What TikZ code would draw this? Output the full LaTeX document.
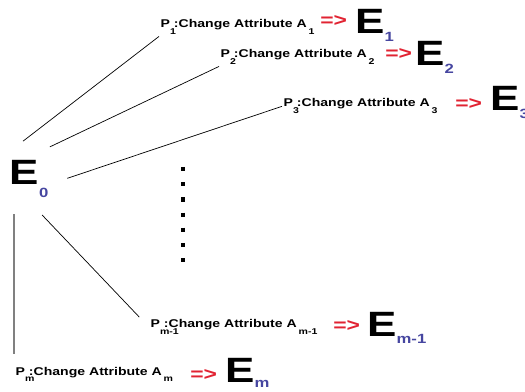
\documentclass[tikz,border=0pt]{standalone}
\usepackage{fontspec}
\newfontfamily\wide[FakeStretch=1.25]{Liberation Sans}
\definecolor{arrred}{RGB}{225,35,50}
\definecolor{subblue}{RGB}{70,70,160}
\newcommand{\stsub}[2][-5.5pt]{\raisebox{#1}{\color{subblue}\fontsize{9.5}{10}\selectfont #2}}
\newcommand{\lsub}[1]{\raisebox{-4.8pt}{\fontsize{6}{7}\selectfont #1}}
\newcommand{\plab}[2]{P\rlap{\lsub{#1}}\ :Change Attribute A\,\lsub{#2}}
\tikzset{
  plabel/.style={anchor=base west, inner sep=1pt, font=\wide\bfseries\fontsize{8}{9}\selectfont},
  implies/.style={anchor=base west, inner sep=0pt, text=arrred, font=\wide\bfseries\fontsize{13}{14}\selectfont},
  state/.style={anchor=base west, inner sep=0pt, font=\wide\bfseries\fontsize{25}{28}\selectfont},
  link/.style={line width=.5pt}
}
\begin{document}
\begin{tikzpicture}[x=0.025cm, y=-0.025cm]
\useasboundingbox (0,0) rectangle (525,392);
% initial state
\node[circle, inner sep=0pt, minimum size=1.9cm, font=\wide\bfseries\fontsize{25}{28}\selectfont] (e0) at (29,179) {E\stsub[-9pt]{0}};
% branches
\node[plabel] (p1) at (159,28) {\plab{1}{1}};
\node[implies] (i1) at (320,27) {=>};
\node[state] (e1) at (355,34) {E\stsub{1}};
\node[plabel] (p2) at (219,58) {\plab{2}{2}};
\node[implies] (i2) at (385,60) {=>};
\node[state] (e2) at (415,66) {E\stsub{2}};
\node[plabel] (p3) at (282,107) {\plab{3}{3}};
\node[implies] (i3) at (455,110) {=>};
\node[state] (e3) at (490,111) {E\stsub{3}};
\node[plabel] (pm1) at (149,328) {\plab{m-1}{m-1}};
\node[implies] (im1) at (333,331) {=>};
\node[state] (em1) at (367,336) {E\stsub{m-1}};
\node[plabel] (pm) at (14,375) {\plab{m}{m}};
\node[implies] (im) at (190,380) {=>};
\node[state] (em) at (225,382) {E\stsub[-4pt]{m}};
% links
\draw[link] (e0.99) -- (p1.south west);
\draw[link] (e0.57) -- (p2.south west);
\draw[link] (e0.1) -- (p3.west);
\draw[link, shorten >=10pt] (e0.-70) -- (pm1.west);
\draw[link, gray, line width=.8pt, shorten >=8pt] (e0.-113) -- (e0.-113 |- pm.north);
% dots
\coordinate (dtop) at (183,167); \coordinate (dbot) at (183,268);
\draw[line width=2.2pt, dash pattern=on 3pt off 7.8pt] (dtop) -- (dbot);
\end{tikzpicture}
\end{document}
